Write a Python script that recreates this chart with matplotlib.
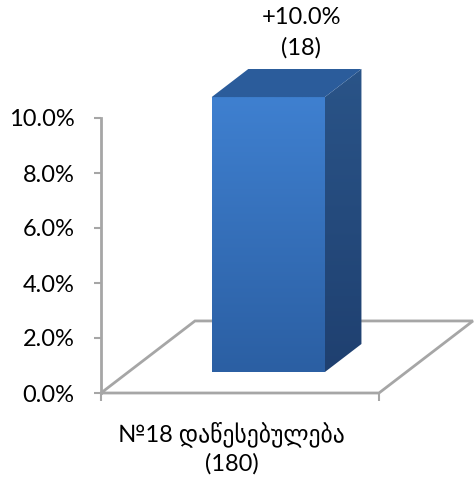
import numpy as np
import matplotlib
matplotlib.use("Agg")
import matplotlib.pyplot as plt
from matplotlib.patches import Polygon
from matplotlib.colors import LinearSegmentedColormap

# ----------------------
# Chart values
# ----------------------
categories = ["№18 დაწესებულება\n(180)"]
values = [10.0]
value_labels = ["+10.0%\n(18)"]
y_ticks = [0, 2, 4, 6, 8, 10]
y_tick_labels = ["0.0%", "2.0%", "4.0%", "6.0%", "8.0%", "10.0%"]

plt.rcParams["font.family"] = ["Lato", "DejaVu Sans"]

# 3D look: how far the floor runs back, in data units
DEPTH_X = 0.338
DEPTH_Y = 2.62
BAR_LEFT = 0.30
BAR_RIGHT = 0.707
BAR_D0 = 0.29
BAR_D1 = 0.68
GRAY = "#a6a6a6"


def pt(x, y, d):
    return (x + d * DEPTH_X, y + d * DEPTH_Y)


def gradient_poly(ax, verts, top, bottom, z):
    cmap = LinearSegmentedColormap.from_list("g", [bottom, top])
    xs = [v[0] for v in verts]
    ys = [v[1] for v in verts]
    im = ax.imshow(np.linspace(0, 1, 256).reshape(-1, 1), cmap=cmap, origin="lower",
                   extent=(min(xs), max(xs), min(ys), max(ys)), aspect="auto", zorder=z)
    im.set_clip_path(Polygon(verts, closed=True, transform=ax.transData))
    im.set_clip_box(fig.bbox)


fig = plt.figure(figsize=(4.77, 4.83), dpi=100)
ax = fig.add_axes([101 / 477, 90 / 483, 278 / 477, 275 / 483])

# floor
floor = [pt(0, 0, 0), pt(1, 0, 0), pt(1, 0, 1), pt(0, 0, 1)]
ax.add_patch(Polygon(floor, closed=True, fc="white", ec=GRAY, lw=2, clip_on=False, zorder=1))

# bar faces
h = values[0]
front = [pt(BAR_LEFT, 0, BAR_D0), pt(BAR_RIGHT, 0, BAR_D0), pt(BAR_RIGHT, h, BAR_D0), pt(BAR_LEFT, h, BAR_D0)]
side = [pt(BAR_RIGHT, 0, BAR_D0), pt(BAR_RIGHT, 0, BAR_D1), pt(BAR_RIGHT, h, BAR_D1), pt(BAR_RIGHT, h, BAR_D0)]
top = [pt(BAR_LEFT, h, BAR_D0), pt(BAR_RIGHT, h, BAR_D0), pt(BAR_RIGHT, h, BAR_D1), pt(BAR_LEFT, h, BAR_D1)]
gradient_poly(ax, front, "#3f80d0", "#2b5fa3", 3)
gradient_poly(ax, side, "#2a5488", "#1f4070", 2)
ax.add_patch(Polygon(top, closed=True, fc="#2b5c9b", ec="none", clip_on=False, zorder=3))

# imshow resets limits, so set them after
ax.set_xlim(0, 1)
ax.set_ylim(0, 10)

# value label above the bar
ax.text(0.72, 13.09, value_labels[0], ha="center", va="center",
        fontsize=17, linespacing=1.5, color="black", clip_on=False)

ax.set_xticks([0, 1])
ax.set_xticklabels(["", ""])
ax.set_yticks(y_ticks)
ax.set_yticklabels(y_tick_labels, fontsize=17)
ax.tick_params(axis="y", length=5, width=1.5, color=GRAY, pad=14)
ax.tick_params(axis="x", length=6, width=1.5, color=GRAY)

ax.text(0.47, -2.0, categories[0], ha="center", va="center", fontsize=17,
        linespacing=1.35, color="black", clip_on=False)

for s in ["top", "right", "bottom"]:
    ax.spines[s].set_visible(False)
ax.spines["left"].set_color(GRAY)
ax.spines["left"].set_linewidth(2)
ax.patch.set_alpha(0)

fig.savefig("out.png", dpi=100)
